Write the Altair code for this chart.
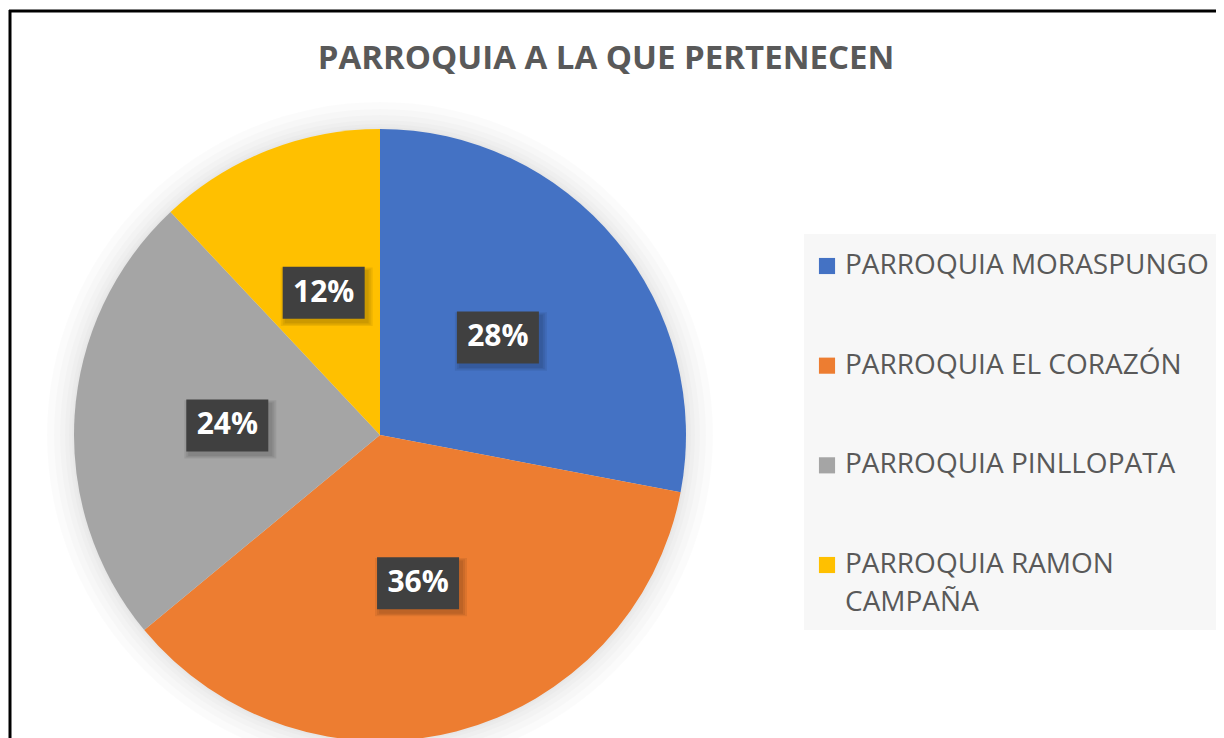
import altair as alt
import pandas as pd

# ---- data ----
categories = ["PARROQUIA MORASPUNGO", "PARROQUIA EL CORAZÓN",
              "PARROQUIA PINLLOPATA", "PARROQUIA RAMON CAMPAÑA"]
values = [28, 36, 24, 12]
legend_labels = ["PARROQUIA MORASPUNGO", "PARROQUIA EL CORAZÓN",
                 "PARROQUIA PINLLOPATA", "PARROQUIA RAMON\nCAMPAÑA"]
colors = ["#4472C4", "#ED7D31", "#A5A5A5", "#FFC000"]
title_text = "PARROQUIA A LA QUE PERTENECEN"

df = pd.DataFrame({"category": categories, "value": values,
                   "order": list(range(len(categories))), "label": legend_labels})

# ---- layout constants ----
W, H = 1208, 730
CX, CY, R = 372, 427, 306
BOX = "M-1,-0.634H1V0.634H-1Z"
FONT = "Open Sans"
TXT = "#595959"

one = alt.Data(values=[{}])
color_enc = alt.Color("category:N", scale=alt.Scale(domain=categories, range=colors), legend=None)

# frame lines
top_line = alt.Chart(one).mark_rule(color="black", strokeWidth=3).encode(
    x=alt.value(1), x2=alt.value(W), y=alt.value(3))
left_line = alt.Chart(one).mark_rule(color="black", strokeWidth=3).encode(
    x=alt.value(2), y=alt.value(2), y2=alt.value(H))

# soft halo around the pie
halo = [alt.Chart(one).mark_arc(radius=R + k, theta=0, theta2=6.2832, color="#000000",
                                opacity=0.014).encode(x=alt.value(CX), y=alt.value(CY))
        for k in (2, 5, 9, 14, 20, 27)]

base = alt.Chart(df)
pie = base.mark_arc(outerRadius=R).encode(
    theta=alt.Theta("value:Q", stack=True),
    color=color_enc,
    order=alt.Order("order:Q"),
    x=alt.value(CX), y=alt.value(CY),
)

lab = base.transform_joinaggregate(total="sum(value)").transform_window(
    cum="sum(value)", sort=[alt.SortField("order", order="ascending")], frame=[None, 0]
).transform_calculate(
    mid="(datum.cum - datum.value/2) / datum.total * 2 * PI",
    bx="0.5 * sin(datum.mid)",
    by="-0.5 * cos(datum.mid)",
    pct="format(datum.value / datum.total, '.0%')",
)
xs = alt.X("bx:Q", scale=alt.Scale(domain=[-1, 1], range=[CX - R, CX + R], nice=False), axis=None)
ys = alt.Y("by:Q", scale=alt.Scale(domain=[-1, 1], range=[CY - R, CY + R], nice=False), axis=None)

box_shadow = [lab.mark_point(shape=BOX, size=s ** 2, filled=True, color="#000000",
                             opacity=0.07, xOffset=3, yOffset=4).encode(x=xs, y=ys)
              for s in (84, 88, 92)]
box = lab.mark_point(shape=BOX, size=82 ** 2, filled=True, color="#404040",
                     opacity=1).encode(x=xs, y=ys)
box_txt = lab.mark_text(font=FONT, fontSize=30, fontWeight="bold", color="white",
                        baseline="middle").encode(x=xs, y=ys, text="pct:N")

# legend
leg_bg = alt.Chart(one).mark_rect(color="#f7f7f7").encode(
    x=alt.value(796), x2=alt.value(W), y=alt.value(226), y2=alt.value(622))
ly = alt.Y("category:N", scale=alt.Scale(type="point", domain=categories,
                                          range=[258, 557], padding=0), axis=None)
leg_sym = base.mark_square(size=260, opacity=1).encode(
    x=alt.value(819), y=ly, color=color_enc)
leg_txt = base.mark_text(align="left", baseline="middle", font=FONT, fontSize=28,
                         color=TXT, lineBreak="\n", lineHeight=38).encode(
    x=alt.value(837), y=ly, text="label:N")

chart = alt.layer(
    top_line, left_line, *halo, pie, *box_shadow, box, box_txt, leg_bg, leg_sym, leg_txt
).resolve_scale(x="independent", y="independent").properties(
    width=W, height=H, padding=0,
    autosize=alt.AutoSizeParams(type="none"),
    title=alt.TitleParams(title_text, anchor="middle", frame="group", baseline="top",
                          offset=-68, dx=-6, font=FONT, fontSize=33, fontWeight="bold",
                          color=TXT),
).configure_view(stroke=None)

chart.save("out.html", embed_options={"renderer": "svg", "actions": False})
